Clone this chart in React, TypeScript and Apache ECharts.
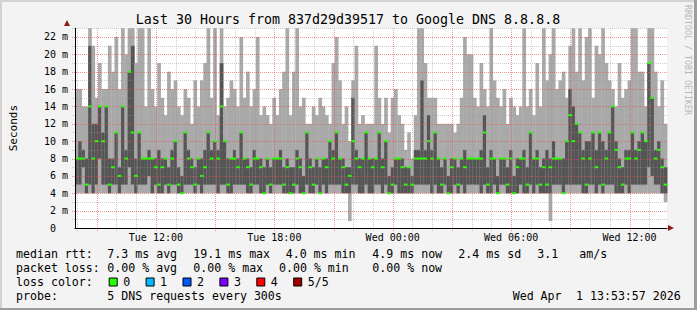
import React, { useEffect, useRef } from "react";
import * as echarts from "echarts";

// ---------- data ----------
const TITLE = "Last 30 Hours from 837d29d39517 to Google DNS 8.8.8.8";
const START_HOUR = 7.9; // Tue 07:54, hours since Tue 00:00
const END_HOUR = 37.9; // Wed 13:54
const STEP_HOURS = 1 / 6; // 10 minute steps
const Y_MAX = 23;
const X_LABEL_HOURS = [12, 18, 24, 30, 36];
const X_LABELS = ["Tue 12:00", "Tue 18:00", "Wed 00:00", "Wed 06:00", "Wed 12:00"];
const GRID_HOURS = [8, 9, 10, 11, 12, 13, 14, 15, 16, 17, 18, 19, 20, 21, 22, 23, 24, 25, 26, 27, 28, 29, 30, 31, 32, 33, 34, 35, 36, 37];
const GRID_VALUES = [1, 2, 3, 4, 5, 6, 7, 8, 9, 10, 11, 12, 13, 14, 15, 16, 17, 18, 19, 20, 21, 22, 23];

// ms, sorted pings per step: max, 4th, median, 2nd, min
const pingMax = [
  16, 16, 14, 14, 23, 21, 15, 19, 16, 16,
  21, 18, 22, 16, 23, 20, 23, 23, 19, 23,
  23, 14, 23, 16, 14, 19, 15, 13, 18, 16,
  17, 14, 13, 16, 15, 12, 17, 14, 17, 19,
  23, 15, 23, 13, 23, 14, 15, 17, 16, 14,
  22, 15, 18, 14, 16, 22, 13, 14, 13, 12,
  15, 13, 16, 18, 23, 13, 18, 23, 14, 15,
  12, 12, 14, 13, 15, 14, 13, 12, 19, 22,
  17, 12, 14, 10, 17, 21, 12, 13, 12, 12,
  12, 21, 15, 12, 15, 11, 15, 16, 13, 12,
  9, 11, 8, 13, 23, 23, 19, 15, 15, 15,
  12, 12, 12, 12, 12, 11, 12, 15, 22, 20,
  20, 15, 14, 19, 16, 14, 23, 17, 15, 14,
  16, 12, 15, 14, 13, 14, 23, 14, 16, 13,
  19, 14, 23, 17, 20, 23, 16, 17, 18, 15,
  21, 23, 18, 23, 17, 22, 23, 15, 21, 20,
  23, 19, 17, 16, 14, 19, 15, 16, 17, 23,
  23, 18, 18, 14, 23, 23, 18, 14, 17, 12,
];
const pingHi = [
  8, 10, 9, 8, 21, 12, 12, 14, 11, 14,
  8, 8, 11, 7, 14, 9, 18, 21, 8, 11,
  8, 8, 9, 8, 8, 9, 8, 8, 7, 9,
  10, 7, 6, 11, 9, 8, 7, 8, 8, 9,
  11, 9, 10, 9, 19, 10, 8, 8, 9, 8,
  11, 8, 8, 7, 9, 8, 8, 7, 8, 7,
  8, 8, 9, 7, 8, 7, 7, 9, 8, 6,
  11, 8, 7, 8, 7, 8, 8, 10, 9, 11,
  8, 8, 7, 7, 15, 9, 8, 8, 11, 8,
  8, 8, 11, 8, 10, 6, 7, 8, 8, 8,
  7, 7, 6, 9, 9, 17, 9, 13, 9, 11,
  8, 7, 8, 6, 8, 8, 7, 8, 9, 8,
  8, 8, 8, 9, 13, 7, 9, 8, 6, 8,
  8, 7, 9, 6, 8, 8, 9, 7, 11, 8,
  9, 7, 8, 9, 8, 10, 8, 8, 8, 10,
  16, 14, 12, 11, 9, 10, 10, 11, 9, 11,
  10, 9, 11, 14, 10, 8, 7, 9, 9, 11,
  9, 10, 11, 10, 19, 15, 9, 10, 8, 7,
];
const pingMedian = [
  8, 8, 8, 5, 14, 8, 10, 14, 10, 14,
  5, 7, 11, 6, 14, 8, 18, 11, 6, 11,
  8, 8, 8, 8, 7, 5, 7, 8, 5, 8,
  10, 5, 4, 11, 8, 7, 5, 8, 6, 7,
  11, 8, 10, 8, 14, 10, 5, 8, 8, 7,
  11, 8, 7, 5, 8, 8, 7, 4, 8, 5,
  8, 8, 8, 5, 7, 4, 5, 8, 7, 4,
  11, 7, 5, 8, 4, 8, 7, 10, 8, 11,
  8, 7, 5, 6, 10, 8, 7, 8, 11, 8,
  7, 8, 11, 7, 10, 4, 5, 8, 8, 7,
  5, 7, 5, 8, 8, 8, 8, 10, 8, 11,
  8, 5, 8, 4, 7, 8, 5, 8, 7, 8,
  8, 8, 8, 8, 11, 5, 8, 8, 4, 8,
  8, 5, 8, 4, 7, 8, 8, 5, 11, 8,
  8, 5, 7, 5, 7, 8, 8, 8, 4, 10,
  13, 10, 12, 11, 8, 5, 8, 11, 7, 11,
  5, 8, 11, 14, 9, 7, 5, 8, 8, 11,
  8, 9, 11, 10, 19, 15, 8, 9, 7, 5,
];
const pingLo = [
  5, 5, 7, 4, 5, 4, 5, 8, 5, 5,
  4, 5, 5, 4, 5, 5, 7, 5, 4, 5,
  5, 5, 6, 4, 5, 4, 4, 5, 4, 5,
  5, 4, 4, 5, 5, 5, 4, 5, 4, 5,
  5, 5, 5, 4, 5, 5, 4, 4, 5, 5,
  5, 5, 4, 4, 5, 5, 4, 4, 5, 4,
  5, 5, 5, 4, 4, 4, 4, 5, 4, 4,
  5, 4, 4, 5, 4, 5, 4, 5, 5, 5,
  5, 4, 4, 4, 5, 5, 4, 4, 5, 4,
  4, 5, 5, 4, 5, 4, 4, 5, 4, 4,
  4, 4, 4, 5, 5, 5, 5, 5, 4, 5,
  4, 4, 5, 4, 4, 5, 4, 5, 4, 5,
  5, 5, 5, 4, 5, 4, 4, 5, 4, 5,
  5, 4, 4, 4, 4, 5, 4, 4, 5, 4,
  5, 4, 4, 4, 4, 5, 5, 5, 4, 5,
  5, 5, 5, 5, 4, 4, 5, 5, 4, 5,
  4, 5, 5, 5, 4, 4, 4, 5, 4, 5,
  5, 5, 5, 5, 7, 6, 5, 5, 4, 4,
];
const pingMin = [
  4, 4, 4, 4, 4, 4, 4, 4, 4, 4,
  4, 4, 4, 4, 4, 4, 4, 4, 4, 4,
  4, 4, 4, 4, 4, 4, 4, 4, 4, 4,
  4, 4, 4, 4, 4, 4, 4, 4, 4, 4,
  4, 4, 4, 4, 4, 4, 4, 4, 4, 4,
  4, 4, 4, 4, 4, 4, 4, 4, 4, 4,
  4, 4, 4, 4, 4, 4, 4, 4, 4, 4,
  4, 4, 4, 4, 4, 4, 4, 4, 4, 4,
  4, 4, 4, 0.8, 4, 4, 4, 4, 4, 4,
  4, 4, 4, 4, 4, 4, 4, 4, 4, 4,
  4, 4, 4, 4, 4, 4, 4, 4, 4, 4,
  4, 4, 4, 4, 4, 4, 4, 4, 4, 4,
  4, 4, 4, 4, 4, 4, 4, 4, 4, 4,
  4, 4, 4, 4, 4, 4, 4, 4, 4, 4,
  4, 4, 4, 4, 0.8, 4, 4, 4, 4, 4,
  4, 4, 4, 4, 4, 4, 4, 4, 4, 4,
  4, 4, 4, 4, 4, 4, 4, 4, 4, 4,
  4, 4, 4, 4, 4, 4, 4, 4, 4, 3,
];

const LEGEND_LINE1 = [
  [16, "median rtt:"], [107.3, "7.3 ms avg"], [193.3, "19.1 ms max"], [285.7, "4.0 ms min"],
  [372.3, "4.9 ms now"], [458.3, "2.4 ms sd"], [537.3, "3.1"], [579.3, "am/s"],
];
const LEGEND_LINE2 = [
  [16, "packet loss:"], [107.3, "0.00 % avg"], [193.3, "0.00 % max"], [279, "0.00 % min"], [372.3, "0.00 % now"],
];
const LOSS_LABELS = ["0", "1", "2", "3", "4", "5/5"];
const LOSS_COLORS = ["#26ff00", "#00b8ff", "#0059ff", "#7e00ff", "#ff0000", "#a00000"];
const LEGEND_LINE4 = [
  [16, "probe:"], [107.3, "5 DNS requests every 300s"], [512.7, "Wed Apr"], [576, "1 13:53:57 2026"],
];

// ---------- styles ----------
const MONO = '"DejaVu Sans Mono", monospace';
const LIGHT = "#a9a9a9";
const DARK = "#555555";
const MEDIAN_COLOR = "#26ff00";
const MINOR = "rgba(150,150,150,0.45)";
const MAJOR = "rgba(235,80,80,0.6)";

export default function App() {
  const ref = useRef<HTMLDivElement>(null);
  useEffect(() => {
    if (!ref.current) return;
    const chart = echarts.init(ref.current, null, { renderer: "svg" });

    const smokeData = pingMedian.map((_, i) => [
      START_HOUR + i * STEP_HOURS, pingMin[i], pingLo[i], pingMedian[i], pingHi[i], pingMax[i],
    ]);

    const smokeItem = (_p: any, api: any) => {
      const t = api.value(0);
      const a = api.coord([t, api.value(1)]);
      const b = api.coord([t + STEP_HOURS, api.value(5)]);
      const yLo = api.coord([t, api.value(2)])[1];
      const yHi = api.coord([t, api.value(4)])[1];
      const w = b[0] - a[0] + 0.4;
      return {
        type: "group",
        children: [
          { type: "rect", shape: { x: a[0], y: b[1], width: w, height: a[1] - b[1] }, style: { fill: LIGHT } },
          { type: "rect", shape: { x: a[0], y: yHi, width: w, height: yLo - yHi }, style: { fill: DARK } },
        ],
      };
    };
    const medianItem = (_p: any, api: any) => {
      const t = api.value(0);
      const a = api.coord([t, api.value(3)]);
      const b = api.coord([t + STEP_HOURS, api.value(3)]);
      return { type: "rect", shape: { x: a[0], y: a[1] - 1, width: b[0] - a[0] + 0.3, height: 2 }, style: { fill: MEDIAN_COLOR } };
    };
    const vGridItem = (_p: any, api: any) => {
      const h = api.value(0);
      const p0 = api.coord([h, 0]);
      const p1 = api.coord([h, Y_MAX]);
      const x = Math.round(p0[0]) + 0.5;
      return {
        type: "line",
        shape: { x1: x, y1: p0[1] + 3, x2: x, y2: p1[1] },
        style: { stroke: h % 3 === 0 ? MAJOR : MINOR, lineWidth: 1, lineDash: [1, 1] },
      };
    };
    const hGridItem = (_p: any, api: any) => {
      const v = api.value(1);
      const p0 = api.coord([START_HOUR, v]);
      const p1 = api.coord([END_HOUR, v]);
      const y = Math.round(p0[1]) + 0.5;
      return {
        type: "line",
        shape: { x1: p0[0] - 3, y1: y, x2: p1[0], y2: y },
        style: { stroke: v % 2 === 0 ? MAJOR : MINOR, lineWidth: 1, lineDash: [1, 1] },
      };
    };

    const textEl = (x: number, y: number, text: string) => ({
      type: "text", x, y, silent: true,
      style: { text, font: `11.6px ${MONO}`, fill: "#000", verticalAlign: "middle" },
    });

    const graphics: any[] = [
      // frame
      { type: "line", shape: { x1: 0, y1: 1, x2: 697, y2: 1 }, style: { stroke: "#d2d2d2", lineWidth: 2 } },
      { type: "line", shape: { x1: 1, y1: 0, x2: 1, y2: 310 }, style: { stroke: "#d2d2d2", lineWidth: 2 } },
      { type: "line", shape: { x1: 0, y1: 309, x2: 697, y2: 309 }, style: { stroke: "#9c9c9c", lineWidth: 2 } },
      { type: "line", shape: { x1: 695.5, y1: 0, x2: 695.5, y2: 310 }, style: { stroke: "#9c9c9c", lineWidth: 3 } },
      // title
      {
        type: "text", x: 348, y: 19.3, silent: true,
        style: { text: TITLE, font: `13.3px ${MONO}`, fill: "#000", align: "center", verticalAlign: "middle" },
      },
      // vendor tag
      {
        type: "text", x: 688, y: 5, rotation: -Math.PI / 2, silent: true,
        style: { text: "RRDTOOL / TOBI OETIKER", font: `8.3px ${MONO}`, fill: "#b8b8b8", align: "left", verticalAlign: "middle" },
      },
      // axis arrows
      { type: "polygon", shape: { points: [[64, 26], [70, 26], [67, 20]] }, style: { fill: "#8b1c1c" }, z: 10 },
      { type: "polygon", shape: { points: [[668, 225], [668, 231], [674, 228]] }, style: { fill: "#8b1c1c" }, z: 10 },
    ];
    LEGEND_LINE1.forEach(([x, t]) => graphics.push(textEl(x as number, 254.3, t as string)));
    LEGEND_LINE2.forEach(([x, t]) => graphics.push(textEl(x as number, 268.3, t as string)));
    graphics.push(textEl(16, 282.3, "loss color:"));
    LOSS_LABELS.forEach((lab, i) => {
      const bx = 108.7 + i * 36.9;
      graphics.push({
        type: "rect", shape: { x: bx + 0.5, y: 278, width: 8, height: 8 },
        style: { fill: LOSS_COLORS[i], stroke: "#000", lineWidth: 1 },
      });
      graphics.push(textEl(bx + 14.5, 282.3, lab));
    });
    LEGEND_LINE4.forEach(([x, t]) => graphics.push(textEl(x as number, 296, t as string)));

    const option: any = {
      animation: false,
      backgroundColor: "#f3f3f3",
      grid: {
        left: 67, right: 30, top: 28.3, bottom: 82,
        show: true, backgroundColor: "#ffffff", borderWidth: 0,
      },
      xAxis: {
        type: "value", min: START_HOUR, max: END_HOUR, z: 5,
        axisLine: { show: true, lineStyle: { color: "#000", width: 1 } },
        axisTick: { show: false },
        splitLine: { show: false },
        axisLabel: {
          customValues: X_LABEL_HOURS,
          margin: 4,
          color: "#000",
          fontFamily: MONO,
          fontSize: 10,
          formatter: (v: number) => {
            const idx = X_LABEL_HOURS.indexOf(Math.round(v));
            return idx >= 0 ? X_LABELS[idx] : "";
          },
        },
      },
      yAxis: {
        type: "value", min: 0, max: Y_MAX, interval: 2, z: 5,
        name: "Seconds", nameLocation: "middle", nameGap: 56,
        nameTextStyle: { fontFamily: MONO, fontSize: 11, color: "#000" },
        axisLine: { show: true, lineStyle: { color: "#000", width: 1 } },
        axisTick: { show: false },
        splitLine: { show: false },
        axisLabel: {
          showMaxLabel: false,
          margin: 7,
          color: "#000",
          fontFamily: MONO,
          fontSize: 10,
          formatter: (v: number) => (v === 0 ? "{z|0}" : `${v} m`),
          rich: { z: { fontFamily: MONO, fontSize: 10, color: "#000", padding: [0, 12, 0, 0] } },
        },
      },
      graphic: graphics,
      series: [
        {
          type: "custom", name: "smoke", renderItem: smokeItem, data: smokeData, z: 2,
          encode: { x: 0, y: [1, 5] }, silent: true,
        },
        {
          type: "custom", name: "hgrid", renderItem: hGridItem,
          data: GRID_VALUES.map((v) => [START_HOUR, v]), z: 3, encode: { x: 0, y: 1 }, silent: true,
        },
        {
          type: "custom", name: "vgrid", renderItem: vGridItem,
          data: GRID_HOURS.map((h) => [h, 0]), z: 3, encode: { x: 0, y: 1 }, silent: true,
        },
        {
          type: "custom", name: "median", renderItem: medianItem, data: smokeData, z: 4,
          encode: { x: 0, y: 3 }, silent: true,
        },
      ],
    };
    chart.setOption(option);
    return () => chart.dispose();
  }, []);
  return <div ref={ref} style={{ position: "fixed", left: 0, top: 0, width: 697, height: 310 }} />;
}
